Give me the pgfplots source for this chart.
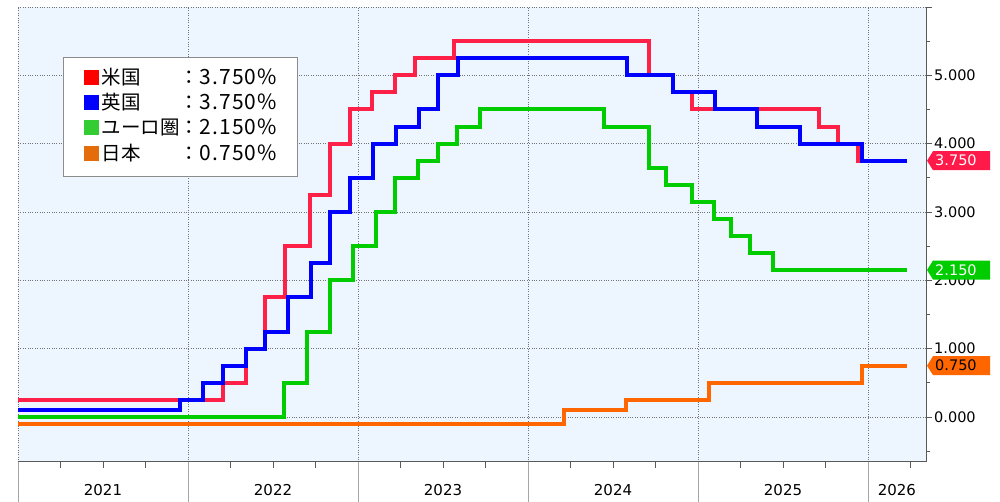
\documentclass[border=0pt]{standalone}
\usepackage{pgfplots}
\pgfplotsset{compat=1.18}
\usepackage{fontspec}
\setmainfont{DejaVu Sans}
\newfontfamily\jp{Noto Sans CJK JP}
\newfontfamily\jpnum{Noto Sans CJK JP}[LetterSpace=6]
\definecolor{lred}{RGB}{255,32,72}
\definecolor{lblue}{RGB}{0,0,255}
\definecolor{lgreen}{RGB}{0,204,0}
\definecolor{lorange}{RGB}{255,102,0}
\definecolor{sqred}{RGB}{255,0,0}
\definecolor{sqgreen}{RGB}{51,204,51}
\definecolor{sqorange}{RGB}{228,108,10}
\definecolor{tagred}{RGB}{255,26,74}
\definecolor{bgblue}{RGB}{237,245,255}
\newcommand\num[1]{{\jpnum\fontsize{21}{23.4}\selectfont #1}}
\begin{document}
\begin{tikzpicture}
\useasboundingbox (-18pt,-40pt) rectangle (982pt,462pt);
\begin{axis}[
  at={(0pt,0pt)}, anchor=south west,
  scale only axis, width=908pt, height=455pt,
  xmin=2021, xmax=2026.341, ymin=-0.66, ymax=6.0,
  axis x line*=bottom, axis y line*=right,
  axis line style={black!65, line width=1pt},
  axis background/.style={fill=bgblue},
  tick align=outside,
  major tick length=6pt, minor tick length=4pt,
  tick style={black!65, line width=0.8pt},
  xtick={2021.25,2021.5,2021.75,2022.25,2022.5,2022.75,2023.25,2023.5,2023.75,2024.25,2024.5,2024.75,2025.25,2025.5,2025.75,2026.25},
  xticklabels={},
  extra x ticks={2021,2022,2023,2024,2025,2026},
  extra x tick labels={},
  extra x tick style={grid=major, major tick length=40pt, tick style={black!35, line width=0.8pt}},
  ytick={0,1,2,3,4,5,6},
  yticklabels={0.000,1.000,2.000,3.000,4.000,5.000,{}},
  minor ytick={-0.5,0.5,1.5,2.5,3.5,4.5,5.5},
  ymajorgrids,
  major grid style={dotted, black!55, line width=0.8pt},
  yticklabel style={font=\fontsize{14.5}{17}\selectfont, inner sep=2pt},
  clip=false,
  const plot,
  every axis plot/.append style={line width=4pt, no markers},
]
% US
\addplot[lred] coordinates {
(2021.0,0.25) (2022.205,0.50) (2022.34,1.00) (2022.455,1.75) (2022.57,2.50)
(2022.72,3.25) (2022.835,4.00) (2022.95,4.50) (2023.085,4.75) (2023.22,5.00)
(2023.335,5.25) (2023.565,5.50) (2024.713,5.00) (2024.85,4.75) (2024.962,4.50)
(2025.71,4.25) (2025.825,4.00) (2025.94,3.75) (2026.23,3.75)};
% UK
\addplot[lblue] coordinates {
(2021.0,0.10) (2021.955,0.25) (2022.09,0.50) (2022.205,0.75) (2022.34,1.00)
(2022.455,1.25) (2022.59,1.75) (2022.722,2.25) (2022.838,3.00) (2022.953,3.50)
(2023.088,4.00) (2023.222,4.25) (2023.356,4.50) (2023.471,5.00) (2023.586,5.25)
(2024.582,5.00) (2024.851,4.75) (2025.101,4.50) (2025.348,4.25) (2025.597,4.00)
(2025.962,3.75) (2026.23,3.75)};
% Euro
\addplot[lgreen] coordinates {
(2021.0,0.00) (2022.567,0.50) (2022.701,1.25) (2022.836,2.00) (2022.970,2.50)
(2023.104,3.00) (2023.219,3.50) (2023.353,3.75) (2023.468,4.00) (2023.584,4.25)
(2023.718,4.50) (2024.445,4.25) (2024.713,3.65) (2024.809,3.40) (2024.962,3.15)
(2025.096,2.90) (2025.192,2.65) (2025.307,2.40) (2025.441,2.15) (2026.23,2.15)};
% Japan
\addplot[lorange] coordinates {
(2021.0,-0.10) (2024.214,0.10) (2024.579,0.25) (2025.063,0.50) (2025.964,0.75) (2026.23,0.75)};

\coordinate (tR) at (axis cs:2026.341,3.75);
\coordinate (tG) at (axis cs:2026.341,2.15);
\coordinate (tO) at (axis cs:2026.341,0.75);

\node[font=\fontsize{15}{17}\selectfont, yshift=-28pt] at (axis cs:2021.5,-0.66) {2021};
\node[font=\fontsize{15}{17}\selectfont, yshift=-28pt] at (axis cs:2022.5,-0.66) {2022};
\node[font=\fontsize{15}{17}\selectfont, yshift=-28pt] at (axis cs:2023.5,-0.66) {2023};
\node[font=\fontsize{15}{17}\selectfont, yshift=-28pt] at (axis cs:2024.5,-0.66) {2024};
\node[font=\fontsize{15}{17}\selectfont, yshift=-28pt] at (axis cs:2025.5,-0.66) {2025};
\node[font=\fontsize{15}{17}\selectfont, yshift=-28pt] at (axis cs:2026.17,-0.66) {2026};

\node[draw=black!45, line width=1.2pt, fill=white, anchor=north west,
      inner xsep=20pt, inner ysep=9pt,
      font=\jp\fontsize{19.5}{23.4}\selectfont]
  at (rel axis cs:0.0496,0.89) {%
  \renewcommand\arraystretch{1.08}%
  \begin{tabular}{@{}l@{\hspace{3pt}}l@{}l@{}}
  \textcolor{sqred}{\rule[-0.5pt]{15pt}{15pt}} & 米国 & ：\num{3.750\%} \\
  \textcolor{lblue}{\rule[-0.5pt]{15pt}{15pt}} & 英国 & ：\num{3.750\%} \\
  \textcolor{sqgreen}{\rule[-0.5pt]{15pt}{15pt}} & ユーロ圏 & ：\num{2.150\%} \\
  \textcolor{sqorange}{\rule[-0.5pt]{15pt}{15pt}} & 日本 & ：\num{0.750\%} \\
  \end{tabular}};
\end{axis}
\foreach \c/\col/\txt/\tc in {tR/tagred/3.750/white, tG/lgreen/2.150/white, tO/lorange/0.750/black} {
  \fill[\col] ([xshift=1pt]\c) -- ++(6pt,9.5pt) -- ++(57pt,0) -- ++(0,-19pt) -- ++(-57pt,0) -- cycle;
  \node[anchor=west, text=\tc, font=\fontsize{14.5}{17}\selectfont, inner sep=0pt] at ([xshift=9pt]\c) {\txt};
}
\end{tikzpicture}
\end{document}
